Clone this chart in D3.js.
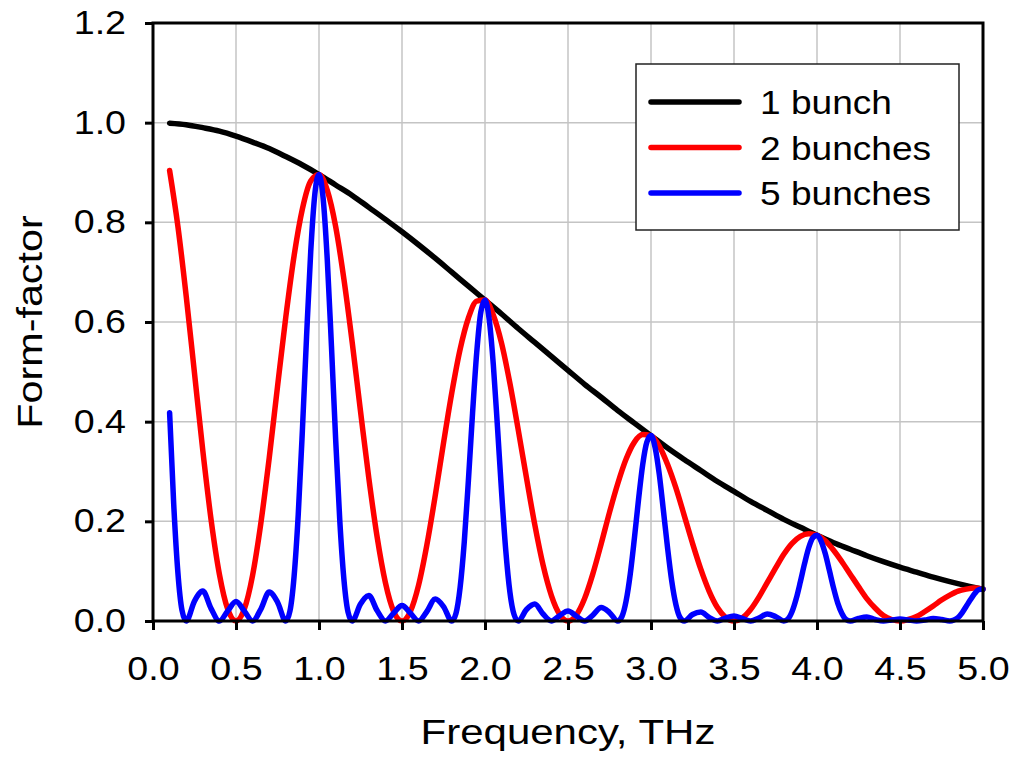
<!DOCTYPE html>
<html>
<head>
<meta charset="utf-8">
<script src="https://cdn.jsdelivr.net/npm/d3@7"></script>
<style>
    body { margin: 0; background: #fff; }
    text { font-family: "Liberation Sans", Arial, sans-serif; fill: #000; }
</style>
</head>
<body>
<div id="chart"></div>
<script>
// form-factor of 1, 2 and 5 bunch trains vs frequency

const xTicks = [0, 0.5, 1, 1.5, 2, 2.5, 3, 3.5, 4, 4.5, 5];
const yTicks = [0, 0.2, 0.4, 0.6, 0.8, 1.0, 1.2];
const xTitle = "Frequency, THz";
const yTitle = "Form-factor";
const seriesNames = ["1 bunch", "2 bunches", "5 bunches"];
const seriesColors = ["#000000", "#ff0000", "#0000ff"];

// [frequency THz, form-factor]
const oneBunch = [
    [0.1, 0.999], [0.2, 0.996], [0.3, 0.990], [0.4, 0.983], [0.5, 0.973], [0.6, 0.961], [0.7, 0.948], [0.8, 0.932], [0.9, 0.915], [1.0, 0.896],
    [1.1, 0.875], [1.2, 0.854], [1.3, 0.830], [1.4, 0.806], [1.5, 0.781], [1.6, 0.755], [1.7, 0.728], [1.8, 0.700], [1.9, 0.672], [2.0, 0.644],
    [2.1, 0.616], [2.2, 0.587], [2.3, 0.559], [2.4, 0.531], [2.5, 0.503], [2.6, 0.475], [2.7, 0.449], [2.8, 0.422], [2.9, 0.397], [3.0, 0.372],
    [3.1, 0.347], [3.2, 0.324], [3.3, 0.302], [3.4, 0.280], [3.5, 0.260], [3.6, 0.240], [3.7, 0.222], [3.8, 0.204], [3.9, 0.188], [4.0, 0.172],
    [4.1, 0.157], [4.2, 0.144], [4.3, 0.131], [4.4, 0.119], [4.5, 0.108], [4.6, 0.098], [4.7, 0.088], [4.8, 0.079], [4.9, 0.071], [5.0, 0.064]
];

const twoBunches = [
    [0.10, 0.904], [0.15, 0.792], [0.20, 0.652], [0.25, 0.497], [0.30, 0.342], [0.35, 0.203], [0.40, 0.094], [0.45, 0.024], [0.50, 0.000],
    [0.55, 0.024], [0.60, 0.092], [0.65, 0.197], [0.70, 0.327], [0.75, 0.470], [0.80, 0.610], [0.85, 0.733], [0.90, 0.827], [0.95, 0.883], [1.00, 0.896],
    [1.05, 0.864], [1.10, 0.792], [1.15, 0.686], [1.20, 0.559], [1.25, 0.421], [1.30, 0.287], [1.35, 0.169], [1.40, 0.077], [1.45, 0.019], [1.50, 0.000],
    [1.55, 0.019], [1.60, 0.072], [1.65, 0.153], [1.70, 0.251], [1.75, 0.357], [1.80, 0.458], [1.85, 0.545], [1.90, 0.608], [1.95, 0.642], [2.00, 0.644],
    [2.05, 0.614], [2.10, 0.557], [2.15, 0.477], [2.20, 0.384], [2.25, 0.287], [2.30, 0.193], [2.35, 0.112], [2.40, 0.051], [2.45, 0.013], [2.50, 0.000],
    [2.55, 0.012], [2.60, 0.045], [2.65, 0.095], [2.70, 0.155], [2.75, 0.218], [2.80, 0.276], [2.85, 0.325], [2.90, 0.359], [2.95, 0.374], [3.00, 0.372],
    [3.05, 0.351], [3.10, 0.314], [3.15, 0.267], [3.20, 0.212], [3.25, 0.156], [3.30, 0.104], [3.35, 0.060], [3.40, 0.027], [3.45, 0.007], [3.50, 0.000],
    [3.55, 0.006], [3.60, 0.023], [3.65, 0.048], [3.70, 0.077], [3.75, 0.106], [3.80, 0.134], [3.85, 0.156], [3.90, 0.170], [3.95, 0.175], [4.00, 0.172],
    [4.05, 0.161], [4.10, 0.142], [4.15, 0.119], [4.20, 0.094], [4.25, 0.069], [4.30, 0.045], [4.35, 0.026], [4.40, 0.011], [4.45, 0.003], [4.50, 0.000],
    [4.55, 0.003], [4.60, 0.009], [4.65, 0.019], [4.70, 0.030], [4.75, 0.042], [4.80, 0.052], [4.85, 0.060], [4.90, 0.064], [4.95, 0.066], [5.00, 0.064]
];

const fiveBunches = [
    [0.100, 0.418], [0.125, 0.233], [0.150, 0.097], [0.175, 0.021], [0.20, 0.000], [0.25, 0.040], [0.30, 0.060], [0.35, 0.025], [0.40, 0.000],
    [0.45, 0.020], [0.50, 0.039], [0.55, 0.020], [0.60, 0.000], [0.65, 0.024], [0.70, 0.058], [0.75, 0.038], [0.80, 0.000],
    [0.825, 0.020], [0.850, 0.090], [0.875, 0.214], [0.900, 0.383], [0.925, 0.570], [0.950, 0.740], [0.975, 0.857], [1.000, 0.896],
    [1.025, 0.848], [1.050, 0.724], [1.075, 0.552], [1.100, 0.367], [1.125, 0.203], [1.150, 0.084], [1.175, 0.018], [1.20, 0.000],
    [1.25, 0.034], [1.30, 0.051], [1.35, 0.021], [1.40, 0.000], [1.45, 0.016], [1.50, 0.031], [1.55, 0.016], [1.60, 0.000],
    [1.65, 0.019], [1.70, 0.044], [1.75, 0.029], [1.80, 0.000],
    [1.825, 0.015], [1.850, 0.067], [1.875, 0.158], [1.900, 0.282], [1.925, 0.417], [1.950, 0.538], [1.975, 0.620], [2.000, 0.644],
    [2.025, 0.606], [2.050, 0.515], [2.075, 0.390], [2.100, 0.258], [2.125, 0.142], [2.150, 0.058], [2.175, 0.013], [2.20, 0.000],
    [2.25, 0.023], [2.30, 0.034], [2.35, 0.014], [2.40, 0.000], [2.45, 0.011], [2.50, 0.020], [2.55, 0.010], [2.60, 0.000],
    [2.65, 0.012], [2.70, 0.027], [2.75, 0.017], [2.80, 0.000],
    [2.825, 0.009], [2.850, 0.040], [2.875, 0.094], [2.900, 0.166], [2.925, 0.244], [2.950, 0.314], [2.975, 0.359], [3.000, 0.372],
    [3.025, 0.348], [3.050, 0.294], [3.075, 0.221], [3.100, 0.146], [3.125, 0.080], [3.150, 0.033], [3.175, 0.007], [3.20, 0.000],
    [3.25, 0.013], [3.30, 0.018], [3.35, 0.007], [3.40, 0.000], [3.45, 0.006], [3.50, 0.010], [3.55, 0.005], [3.60, 0.000],
    [3.65, 0.006], [3.70, 0.014], [3.75, 0.009], [3.80, 0.000],
    [3.825, 0.004], [3.850, 0.019], [3.875, 0.045], [3.900, 0.079], [3.925, 0.115], [3.950, 0.147], [3.975, 0.167], [4.000, 0.172],
    [4.025, 0.160], [4.050, 0.135], [4.075, 0.101], [4.100, 0.066], [4.125, 0.036], [4.150, 0.015], [4.175, 0.003], [4.20, 0.000],
    [4.25, 0.005], [4.30, 0.008], [4.35, 0.003], [4.40, 0.000], [4.45, 0.002], [4.50, 0.004], [4.55, 0.002], [4.60, 0.000],
    [4.65, 0.002], [4.70, 0.005], [4.75, 0.003], [4.80, 0.000],
    [4.825, 0.002], [4.850, 0.007], [4.875, 0.017], [4.900, 0.030], [4.925, 0.043], [4.950, 0.055], [4.975, 0.063], [5.000, 0.064]
];

const series = [oneBunch, twoBunches, fiveBunches];

const width = 1012;
const height = 757;
const margin = { left: 153, top: 23, right: 29, bottom: 136 };

// the original font is a bit wider than Liberation Sans, stretch text along its baseline
function stretchText(sel, factor) {
    sel.each(function () {
        let len = this.getComputedTextLength();
        d3.select(this)
            .attr('textLength', len * factor)
            .attr('lengthAdjust', 'spacingAndGlyphs');
    });
}

let svg = d3.select('#chart')
    .append('svg')
    .attr('width', width)
    .attr('height', height);

let xScale = d3.scaleLinear()
    .domain([0, 5])
    .range([margin.left, width - margin.right]);

let yScale = d3.scaleLinear()
    .domain([0, 1.2])
    .range([height - margin.bottom, margin.top]);

//Grid lines
let grid = svg.append('g').attr('id', 'grid');

grid.selectAll('line.gx')
    .data(xTicks.slice(1, -1))
    .join('line')
    .attr('class', 'gx')
    .attr('x1', d => xScale(d))
    .attr('x2', d => xScale(d))
    .attr('y1', yScale(0))
    .attr('y2', yScale(1.2))
    .attr('stroke', '#c4c4c4')
    .attr('stroke-width', 1.5);

grid.selectAll('line.gy')
    .data(yTicks.slice(1, -1))
    .join('line')
    .attr('class', 'gy')
    .attr('x1', xScale(0))
    .attr('x2', xScale(5))
    .attr('y1', d => yScale(d))
    .attr('y2', d => yScale(d))
    .attr('stroke', '#c4c4c4')
    .attr('stroke-width', 1.5);

//Curves
let line = d3.line()
    .x(d => xScale(d[0]))
    .y(d => yScale(d[1]))
    .curve(d3.curveMonotoneX);

svg.append('g')
    .attr('id', 'curves')
    .selectAll('path')
    .data(series)
    .join('path')
    .attr('d', line)
    .attr('fill', 'none')
    .attr('stroke', (d, i) => seriesColors[i])
    .attr('stroke-width', 5.5)
    .attr('stroke-linecap', 'round')
    .attr('stroke-linejoin', 'round');

//Axes
let xAxis = d3.axisBottom(xScale)
    .tickValues(xTicks)
    .tickSize(9)
    .tickPadding(27)
    .tickFormat(d3.format('.1f'));

let yAxis = d3.axisLeft(yScale)
    .tickValues(yTicks)
    .tickSize(8)
    .tickPadding(19)
    .tickFormat(d3.format('.1f'));

let gx = svg.append('g')
    .attr('transform', `translate(0, ${yScale(0)})`)
    .call(xAxis)
    .call(g => g.select('.domain').remove());

let gy = svg.append('g')
    .attr('transform', `translate(${xScale(0)}, 0)`)
    .call(yAxis)
    .call(g => g.select('.domain').remove());

[gx, gy].forEach(g => {
    g.selectAll('.tick line')
        .attr('stroke', '#000')
        .attr('stroke-width', 3);
    g.selectAll('.tick text')
        .attr('font-size', '33px')
        .attr('font-family', '"Liberation Sans", Arial, sans-serif')
        .attr('fill', '#000')
        .call(stretchText, 1.14);
});

//Frame round the plot area
svg.append('rect')
    .attr('x', xScale(0))
    .attr('y', yScale(1.2))
    .attr('width', xScale(5) - xScale(0))
    .attr('height', yScale(0) - yScale(1.2))
    .attr('fill', 'none')
    .attr('stroke', '#000')
    .attr('stroke-width', 3);

//Axis titles
svg.append('text')
    .attr('x', (xScale(0) + xScale(5)) / 2)
    .attr('y', 744)
    .attr('text-anchor', 'middle')
    .attr('font-size', '35px')
    .text(xTitle)
    .call(stretchText, 1.2);

svg.append('text')
    .attr('transform', `translate(42, ${(yScale(0) + yScale(1.2)) / 2}) rotate(-90)`)
    .attr('text-anchor', 'middle')
    .attr('font-size', '35px')
    .text(yTitle)
    .call(stretchText, 1.18);

//Legend
let legend = svg.append('g').attr('id', 'legend');

legend.append('rect')
    .attr('x', 636)
    .attr('y', 64)
    .attr('width', 323)
    .attr('height', 166)
    .attr('fill', '#fff')
    .attr('stroke', '#222')
    .attr('stroke-width', 1.5);

let items = legend.selectAll('g.item')
    .data(seriesNames)
    .join('g')
    .attr('class', 'item')
    .attr('transform', (d, i) => `translate(651, ${102 + i * 45.5})`);

items.append('line')
    .attr('x1', 0)
    .attr('x2', 88)
    .attr('stroke', (d, i) => seriesColors[i])
    .attr('stroke-width', 5.5)
    .attr('stroke-linecap', 'round');

items.append('text')
    .attr('x', 109)
    .attr('y', 12)
    .attr('font-size', '34px')
    .text(d => d)
    .call(stretchText, 1.09);
</script>
</body>
</html>
